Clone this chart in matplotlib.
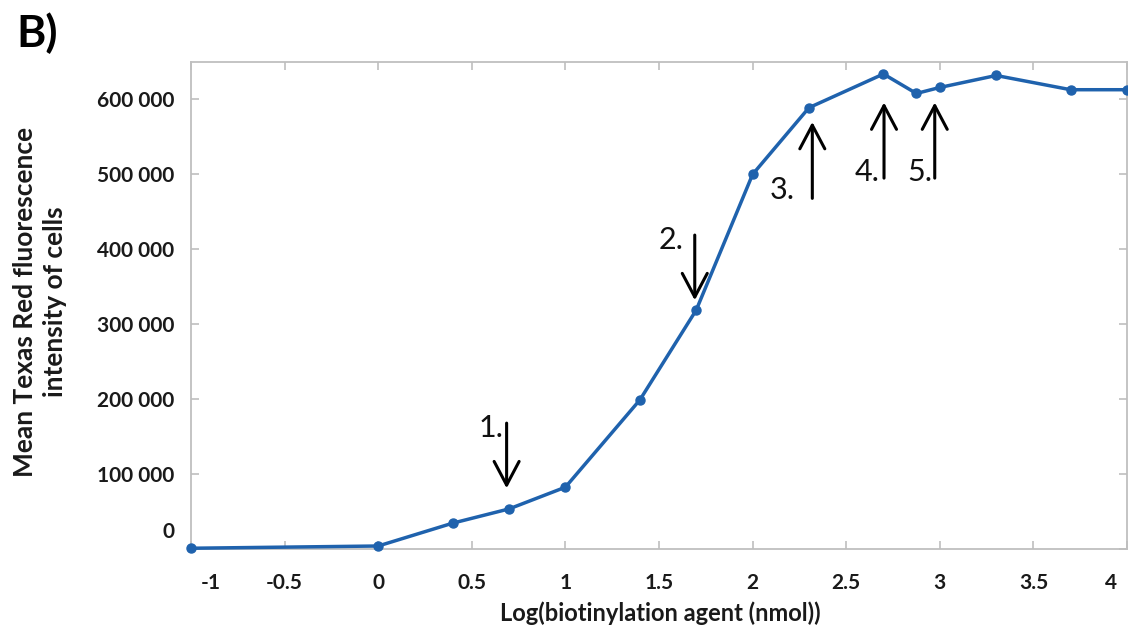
import numpy as np
import matplotlib
matplotlib.use('Agg')
import matplotlib.pyplot as plt
from matplotlib.transforms import ScaledTranslation

plt.rcParams['font.family'] = ['Lato', 'DejaVu Sans']

# amount of biotinylation agent (nmol) and mean fluorescence
nmol = [0.1, 1, 2.5, 5, 10, 25, 50, 100, 200, 500, 750, 1000, 2000, 5000, 10000]
fluor = [1000, 4000, 34500, 53500, 82500, 199000, 319000, 500000,
         589000, 634000, 608000, 616000, 632000, 613000, 613000]
log_x = np.log10(nmol)

yticks = [0, 100000, 200000, 300000, 400000, 500000, 600000]
ytick_labels = ['0', '100 000', '200 000', '300 000', '400 000', '500 000', '600 000']
xticks = [-1, -0.5, 0, 0.5, 1, 1.5, 2, 2.5, 3, 3.5, 4]
xtick_labels = ['-1', '-0.5', '0', '0.5', '1', '1.5', '2', '2.5', '3', '3.5', '4']

# arrows: label, x, tail y, tip y
arrows = [('1.', 0.686, 168000, 81000),
          ('2.', 1.691, 419000, 332000),
          ('3.', 2.319, 468000, 570000),
          ('4.', 2.702, 495000, 596000),
          ('5.', 2.973, 495000, 596000)]
# label positions (right edge x, centre y)
arrow_labels = [(0.672, 161000), (1.630, 412000), (2.225, 479000),
                (2.678, 503000), (2.959, 503000)]

fig = plt.figure(figsize=(11.28, 6.4), dpi=100)
ax = fig.add_axes([191/1128, 1-549/640, (1127-191)/1128, (549-62)/640])

ax.plot(log_x, fluor, color='#1f62ad', lw=2.5, marker='o', ms=6.5,
        clip_on=False, zorder=3)

for (lab, x, y0, y1), (lx, ly) in zip(arrows, arrow_labels):
    ax.annotate('', xy=(x, y1), xytext=(x, y0),
                arrowprops=dict(arrowstyle='->,head_length=0.85,head_width=0.45',
                                color='black', lw=2.2, mutation_scale=20,
                                shrinkA=0, shrinkB=0))
    ax.text(lx, ly, lab, ha='right', va='center', fontsize=22, color='#111111')

ax.set_xlim(-1, 4)
ax.set_ylim(0, 650000)
ax.set_xticks(xticks)
ax.set_xticklabels(xtick_labels)
ax.set_yticks(yticks)
ax.set_yticklabels(ytick_labels)

for s in ax.spines.values():
    s.set_color('#bfbfbf')
    s.set_linewidth(1.3)
ax.tick_params(direction='in', length=6, width=1.2, color='#bfbfbf',
               top=True, right=True, labelsize=15, labelcolor='#1a1a1a')
ax.tick_params(axis='x', pad=17)
ax.tick_params(axis='y', pad=12)
for t in ax.get_xticklabels() + ax.get_yticklabels():
    t.set_fontweight('bold')

# the "0" label sits a bit above the axis line in the original
zero = ax.get_yticklabels()[0]
zero.set_transform(zero.get_transform() + ScaledTranslation(0, 19/100, fig.dpi_scale_trans))
# edge labels pulled inwards
lab_m1 = ax.get_xticklabels()[0]
lab_m1.set_transform(lab_m1.get_transform() + ScaledTranslation(20/100, 0, fig.dpi_scale_trans))
lab_4 = ax.get_xticklabels()[-1]
lab_4.set_transform(lab_4.get_transform() + ScaledTranslation(-16/100, 0, fig.dpi_scale_trans))

fig.text(660/1128, 1-613/640, 'Log(biotinylation agent (nmol))', ha='center',
         va='center', fontsize=17, fontweight='bold', color='#1a1a1a')
fig.text(40/1128, 1-302/640, 'Mean Texas Red fluorescence\nintensity of cells',
         ha='center', va='center', rotation=90, fontsize=19, fontweight='bold',
         color='#1a1a1a', linespacing=1.3)
fig.text(16/1128, 1-33/640, 'B)', ha='left', va='center', fontsize=32,
         fontweight='bold', color='black')

fig.savefig('out.png', dpi=100)
